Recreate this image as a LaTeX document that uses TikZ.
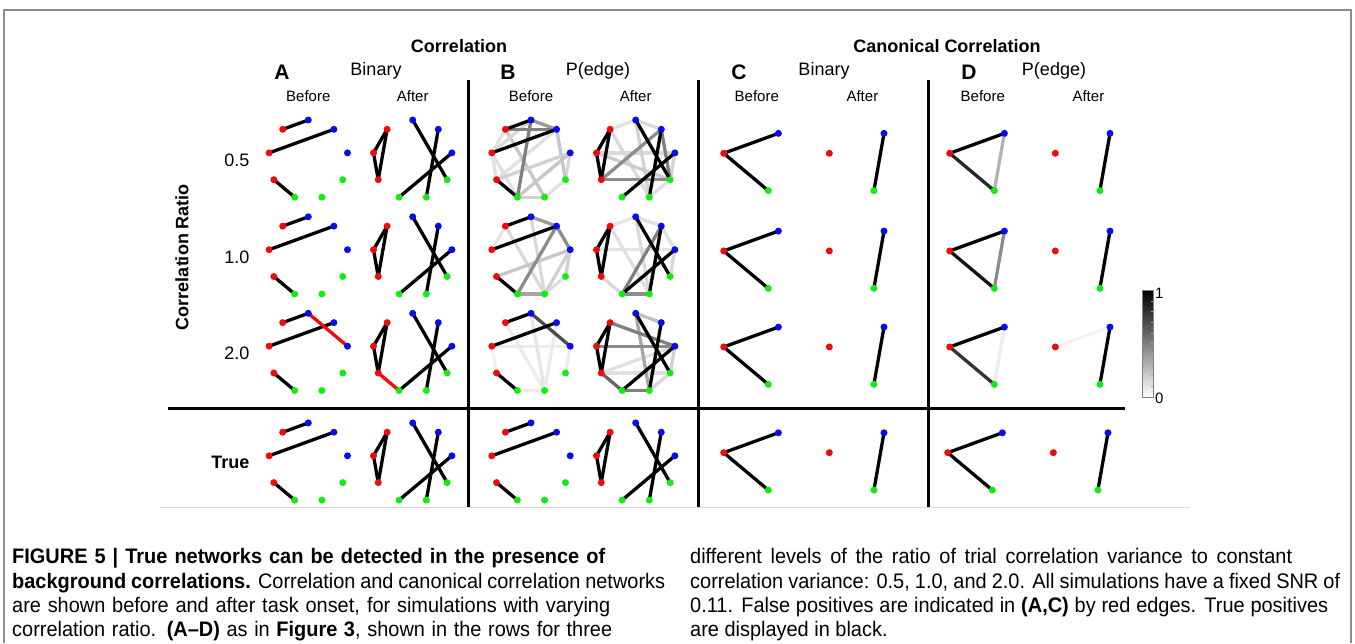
\documentclass[tikz,border=0pt]{standalone}
\usepackage{fontspec}
\setmainfont{Liberation Sans}
\newfontfamily\capf[FakeStretch=0.95]{Liberation Sans}
\usetikzlibrary{calc}
\pgfdeclarelayer{bg}
\pgfsetlayers{bg,main}
\definecolor{nr}{RGB}{240,10,10}
\definecolor{nb}{RGB}{10,10,235}
\definecolor{ng}{RGB}{20,235,20}
\hfuzz=300pt \hbadness=10000
\tikzset{
  dot/.style={circle, inner sep=0pt, minimum size=7pt, fill=#1},
  edge/.style={line width=3.3pt, line cap=round},
  hdr/.style={font=\bfseries\fontsize{18}{20}\selectfont},
  letter/.style={font=\bfseries\fontsize{21}{22}\selectfont},
  sub/.style={font=\fontsize{18}{20}\selectfont},
  ba/.style={font=\fontsize{15}{17}\selectfont},
  rowlab/.style={anchor=east, font=\fontsize{18}{20}\selectfont},
  grid/.style={line width=2.8pt},
  capline/.style={anchor=base west, inner sep=0pt, font=\capf\fontsize{21}{24}\selectfont}
}
% nine-node ring: prefix, cx, cy
\newcommand\gnine[3]{\foreach \xn/\xa/\xc in {B1/90/nb,B2/50/nb,B3/10/nb,G1/-30/ng,G2/-70/ng,G3/-110/ng,R1/-150/nr,R2/170/nr,R3/130/nr}{\node[dot=\xc] (#1\xn) at ($(#2,#3)+(\xa:39.8pt)$) {};}}
% three-node ring: prefix, cx, cy
\newcommand\gthree[3]{\foreach \xn/\xa/\xc in {R/170/nr,B/50/nb,G/-70/ng}{\node[dot=\xc] (#1\xn) at ($(#2,#3)+(\xa:33.6pt)$) {};}}
% edges: prefix, list u/v/colour
\newcommand\edges[2]{\foreach \xu/\xv/\xw in {#2}{\draw[edge, draw=\xw] (#1\xu.center) -- (#1\xv.center);}}
\newcommand\truebefore[1]{\edges{#1}{R3/B1/black, R2/B2/black, R1/G3/black}}
\newcommand\trueafter[1]{\edges{#1}{R3/R2/black, R3/R1/black, R2/R1/black, B1/G1/black, B2/G2/black, B3/G3/black}}

\begin{document}
\begin{tikzpicture}[x=1pt, y=-1pt]
\useasboundingbox (0,0) rectangle (1355,643);
% frame
\draw[black!45, line width=1.2pt] (4,643) -- (4,10) -- (1351,10) -- (1351,643);
\draw[black!15, line width=1pt] (160,507.5) -- (1190,507.5);

% headers
\node[hdr] (tcorr) at (459,46) {Correlation};
\node[hdr] (tcan) at (947,46) {Canonical Correlation};
\node[letter] (lA) at (282,72) {A};
\node[sub] (sA) at (376,71) {Binary};
\node[letter] (lB) at (508,72) {B};
\node[sub] (sB) at (598,71) {P(edge)};
\node[letter] (lC) at (739,72) {C};
\node[sub] (sC) at (824,71) {Binary};
\node[letter] (lD) at (969,72) {D};
\node[sub] (sD) at (1054,71) {P(edge)};
\foreach \xb/\xa/\xp in {308.3/412.7/A,531/635.7/B,756.8/862.4/C,982.8/1088.4/D}{
  \node[ba] (bef\xp) at (\xb,96) {Before};
  \node[ba] (aft\xp) at (\xa,96) {After};
}

% row labels
\node[rotate=90, hdr] (ratio) at (182,257) {Correlation Ratio};
\node[rowlab] (r1) at (253,160) {0.5};
\node[rowlab] (r2) at (253,257) {1.0};
\node[rowlab] (r3) at (253,353) {2.0};
\node[rowlab, font=\bfseries\fontsize{18}{20}\selectfont] (r4) at (253,462) {True};

% grid lines
\draw[grid] (468.5,80) -- (468.5,507);
\draw[grid] (698.3,80) -- (698.3,507);
\draw[grid] (928.3,80) -- (928.3,507);
\draw[grid] (168,408.7) -- (1125,408.7);

% graphs: panels A and B
\foreach \xr/\xy in {1/159.8,2/256.6,3/353.1,4/462.7}{
  \gnine{A\xr b}{308.3}{\xy}
  \gnine{A\xr a}{412.7}{\xy}
  \gnine{B\xr b}{531}{\xy}
  \gnine{B\xr a}{635.7}{\xy}
}
% panels C and D
\foreach \xr/\xy in {1/159.1,2/256.8,3/352.8}{
  \gthree{C\xr b}{756.8}{\xy}
  \gthree{C\xr a}{862.4}{\xy}
  \gthree{D\xr b}{982.8}{\xy}
  \gthree{D\xr a}{1088.4}{\xy}
}
\gthree{C4b}{756.8}{458.5}
\gthree{C4a}{862.4}{458.5}
\gthree{D4b}{980.8}{458.5}
\gthree{D4a}{1086.4}{458.5}

\begin{pgfonlayer}{bg}
% panel A
\truebefore{A1b} \trueafter{A1a}
\truebefore{A2b} \trueafter{A2a}
\truebefore{A3b} \edges{A3b}{B1/B3/nr}
\trueafter{A3a} \edges{A3a}{R1/G3/nr}
\truebefore{A4b} \trueafter{A4a}
% panel B
\edges{B1b}{R3/R2/black!12, R2/R1/black!12, G2/G1/black!12, B3/G1/black!15, R2/G3/black!12, R1/B2/black!12, B2/G1/black!22, R3/G2/black!22, B3/G3/black!22, R1/B3/black!18, G3/G2/black!18, R2/B1/black!15, B1/B2/black!40, R3/B2/black!50, B1/G3/black!50}
\truebefore{B1b}
\edges{B1a}{R3/B1/black!12, B1/B2/black!15, R2/B3/black!15, B3/G1/black!18, G2/G1/black!12, R3/G2/black!15, B1/G2/black!18, R2/G1/black!20, R1/B2/black!45, R1/G1/black!45, B2/G1/black!50}
\trueafter{B1a}
\edges{B2b}{R2/R3/black!10, G2/G1/black!12, R3/G2/black!15, B1/G2/black!15, B3/G1/black!18, B3/G2/black!18, R1/B3/black!22, G3/G2/black!35, B1/B2/black!40, B2/B3/black!45, B2/G3/black!45}
\truebefore{B2b}
\edges{B2a}{R3/B1/black!10, B1/B2/black!12, B2/B3/black!12, R2/B3/black!10, B3/G1/black!15, R1/G3/black!15, R3/G2/black!12, B1/G2/black!15, G3/G2/black!45, B2/G3/black!50}
\trueafter{B2a}
\edges{B3b}{R2/B3/black!8, R3/G2/black!8, B1/G2/black!10, B2/G2/black!8, G3/G2/black!8, B3/G1/black!8, R1/R2/black!6, B1/B3/black!70}
\truebefore{B3b}
\edges{B3a}{R1/B3/black!12, G2/G1/black!15, B3/G1/black!18, R1/G1/black!12, B1/B2/black!25, B1/G2/black!35, R2/B3/black!45, R3/B3/black!50, G3/G2/black!50, R1/G3/black!60}
\trueafter{B3a}
\truebefore{B4b} \trueafter{B4a}
% panel C
\foreach \xr in {1,2,3,4}{
  \edges{C\xr b}{R/B/black, R/G/black}
  \edges{C\xr a}{B/G/black}
}
% panel D
\edges{D1b}{B/G/black!30, R/G/black!85, R/B/black}
\edges{D1a}{B/G/black}
\edges{D2b}{B/G/black!45, R/G/black!92, R/B/black}
\edges{D2a}{B/G/black}
\edges{D3b}{B/G/black!7, R/G/black!80, R/B/black}
\edges{D3a}{R/B/black!5, B/G/black}
\edges{D4b}{R/B/black, R/G/black}
\edges{D4a}{B/G/black}
\end{pgfonlayer}

% colour bar
\shade[top color=black, bottom color=white] (1142,290) rectangle (1153,397);
\draw[black!50, line width=0.6pt] (1142,290) rectangle (1153,397);
\foreach \xt in {1,...,9}{\draw[black!35, line width=0.4pt] (1151,{290+\xt*10.7}) -- (1153,{290+\xt*10.7});}
\node[anchor=west, ba, inner sep=1pt] (cb1) at (1154,293) {1};
\node[anchor=west, ba, inner sep=1pt] (cb0) at (1154,398) {0};

% caption
\node[capline] (c1) at (12,563) {\hbox to 593pt{\textbf{FIGURE 5 | True networks can be detected in the presence of}}};
\node[capline] (c2) at (12,588) {\hbox to 653pt{\textbf{background correlations.} Correlation and canonical correlation networks}};
\node[capline] (c3) at (12,612) {\hbox to 598pt{are shown before and after task onset, for simulations with varying}};
\node[capline] (c4) at (12,636) {\hbox to 600pt{correlation ratio. \textbf{(A–D)} as in \textbf{Figure 3}, shown in the rows for three}};
\node[capline] (c5) at (690,563) {\hbox to 602pt{different levels of the ratio of trial correlation variance to constant}};
\node[capline] (c6) at (690,588) {\hbox to 650pt{correlation variance: 0.5, 1.0, and 2.0. All simulations have a fixed SNR of}};
\node[capline] (c7) at (690,612) {\hbox to 638pt{0.11. False positives are indicated in \textbf{(A,C)} by red edges. True positives}};
\node[capline] (c8) at (690,636) {are displayed in black.};
\end{tikzpicture}
\end{document}
